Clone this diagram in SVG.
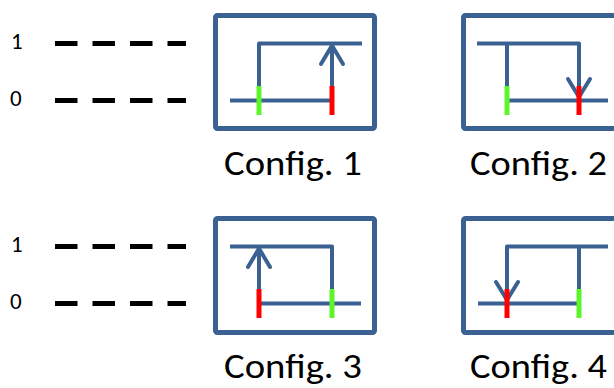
<svg xmlns="http://www.w3.org/2000/svg" width="614" height="388" viewBox="0 0 614 388">
  <style>
    .frame { fill: none; stroke: #3B6192; stroke-width: 5; stroke-linejoin: round; }
    .wire { fill: none; stroke: #3B6192; stroke-width: 4; stroke-linejoin: round; stroke-linecap: butt; }
    .head { fill: none; stroke: #3B6192; stroke-width: 4; stroke-linejoin: round; stroke-linecap: round; }
    .on { stroke: #FF0000; stroke-width: 5; }
    .off { stroke: #5CF52A; stroke-width: 5; }
    .level { stroke: #000; stroke-width: 5; stroke-dasharray: 22.5 15; }
    .digit { font-family: Carlito, Calibri, Lato, "Liberation Sans", sans-serif; font-size: 23px; fill: #000; }
    .caption { font-family: Carlito, Calibri, Lato, "Liberation Sans", sans-serif; font-size: 34px; fill: #000; }
  </style>

  <!-- logic level reference lines -->
  <g id="levels-top">
    <text class="digit" x="11" y="49">1</text>
    <text class="digit" x="10" y="106">0</text>
    <line class="level" x1="55" y1="43.5" x2="186" y2="43.5"/>
    <line class="level" x1="55" y1="100.5" x2="186" y2="100.5"/>
  </g>
  <g id="levels-bottom">
    <text class="digit" x="11" y="252">1</text>
    <text class="digit" x="10" y="309">0</text>
    <line class="level" x1="55" y1="246.5" x2="186" y2="246.5"/>
    <line class="level" x1="55" y1="303.5" x2="186" y2="303.5"/>
  </g>

  <!-- Config. 1 -->
  <g id="config-1">
    <rect class="frame" x="215.5" y="15.5" width="159" height="113" rx="2"/>
    <path class="wire" d="M259,86 V43.5 H362"/>
    <path class="wire" d="M230,100.5 H332"/>
    <path class="wire" d="M332,86 V46"/>
    <path class="head" d="M321,64 L332,45.5 L343,64"/>
    <line class="off" x1="259" y1="86" x2="259" y2="115"/>
    <line class="on" x1="332" y1="86" x2="332" y2="115"/>
    <text class="caption" x="224" y="175" textLength="138" lengthAdjust="spacingAndGlyphs">Config. 1</text>
  </g>

  <!-- Config. 2 -->
  <g id="config-2">
    <rect class="frame" x="463.5" y="15.5" width="159" height="113" rx="2"/>
    <path class="wire" d="M477,43.5 H579 V95"/>
    <path class="wire" d="M507,43.5 V86"/>
    <path class="wire" d="M507,100.5 H608"/>
    <path class="head" d="M568,79 L579,97 L590,79"/>
    <line class="off" x1="507" y1="86" x2="507" y2="115"/>
    <line class="on" x1="579" y1="86" x2="579" y2="115"/>
    <text class="caption" x="470" y="175" textLength="137" lengthAdjust="spacingAndGlyphs">Config. 2</text>
  </g>

  <!-- Config. 3 -->
  <g id="config-3">
    <rect class="frame" x="215.5" y="218.5" width="159" height="114" rx="2"/>
    <path class="wire" d="M230,246.5 H332 V289"/>
    <path class="wire" d="M259,289 V249"/>
    <path class="wire" d="M259,303.5 H361"/>
    <path class="head" d="M248,267 L259,248.5 L270,267"/>
    <line class="on" x1="259" y1="289" x2="259" y2="318"/>
    <line class="off" x1="332" y1="289" x2="332" y2="318"/>
    <text class="caption" x="224" y="378" textLength="138" lengthAdjust="spacingAndGlyphs">Config. 3</text>
  </g>

  <!-- Config. 4 -->
  <g id="config-4">
    <rect class="frame" x="463.5" y="218.5" width="159" height="114" rx="2"/>
    <path class="wire" d="M507,298 V246.5 H608"/>
    <path class="wire" d="M579,246.5 V289"/>
    <path class="wire" d="M478,303.5 H579"/>
    <path class="head" d="M496,282 L507,300 L518,282"/>
    <line class="on" x1="507" y1="289" x2="507" y2="318"/>
    <line class="off" x1="579" y1="289" x2="579" y2="318"/>
    <text class="caption" x="470" y="378" textLength="137" lengthAdjust="spacingAndGlyphs">Config. 4</text>
  </g>
</svg>
